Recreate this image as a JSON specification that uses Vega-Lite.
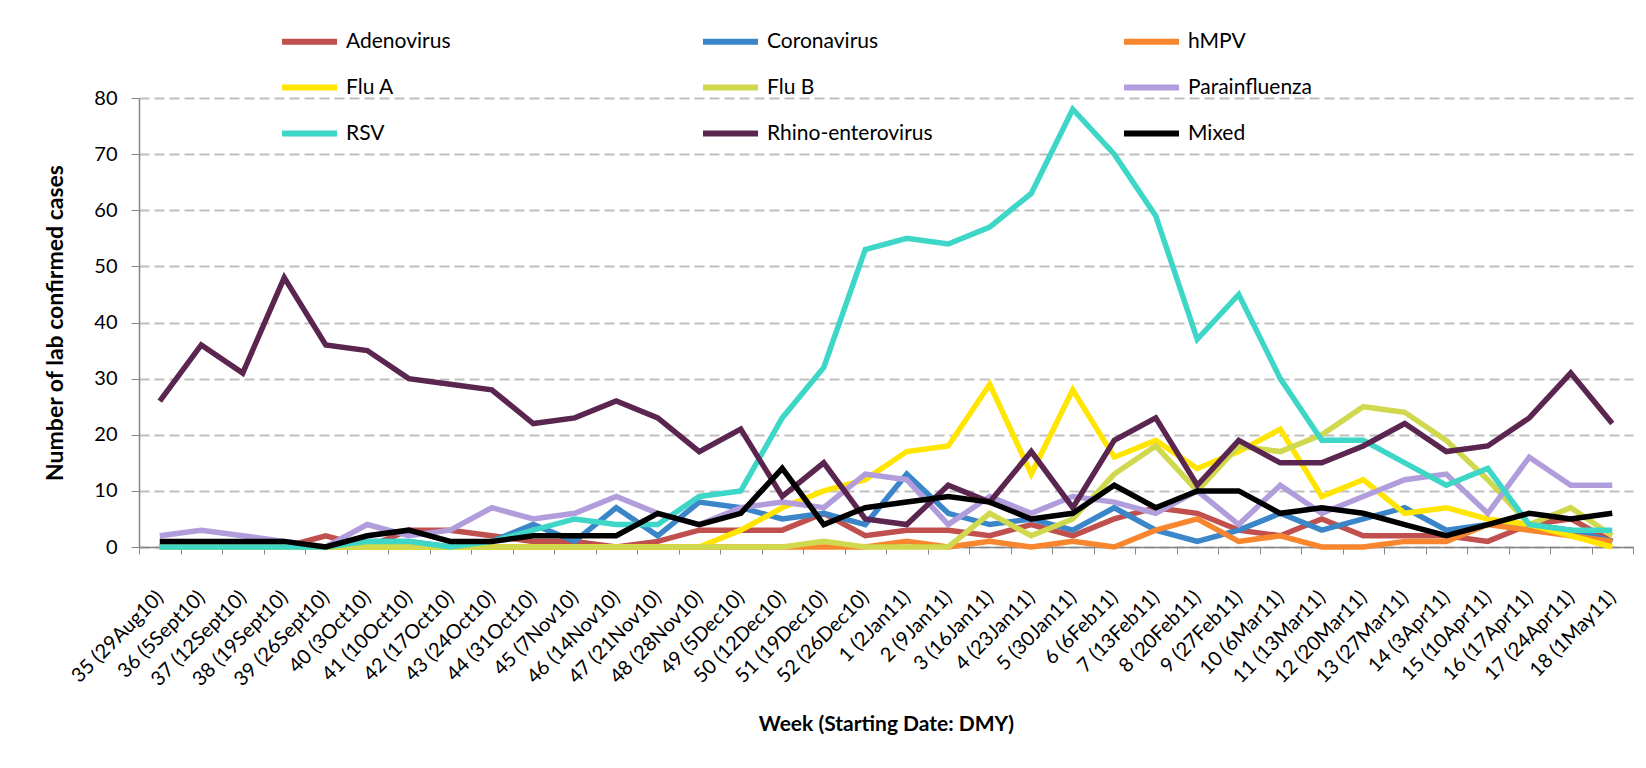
{
  "$schema": "https://vega.github.io/schema/vega-lite/v6.json",
  "width": 1494,
  "height": 449,
  "autosize": "none",
  "padding": {"left": 139, "top": 98, "right": 13, "bottom": 221},
  "background": "white",
  "config": {
    "font": "Lato",
    "view": {"stroke": null},
    "axis": {"labelColor": "black", "titleColor": "black", "labelFont": "Lato", "titleFont": "Lato"}
  },
  "data": {
    "values": [
      {"week": "35 (29Aug10)", "virus": "Adenovirus", "cases": 0},
      {"week": "36 (5Sept10)", "virus": "Adenovirus", "cases": 0},
      {"week": "37 (12Sept10)", "virus": "Adenovirus", "cases": 0},
      {"week": "38 (19Sept10)", "virus": "Adenovirus", "cases": 0},
      {"week": "39 (26Sept10)", "virus": "Adenovirus", "cases": 2},
      {"week": "40 (3Oct10)", "virus": "Adenovirus", "cases": 0},
      {"week": "41 (10Oct10)", "virus": "Adenovirus", "cases": 3},
      {"week": "42 (17Oct10)", "virus": "Adenovirus", "cases": 3},
      {"week": "43 (24Oct10)", "virus": "Adenovirus", "cases": 2},
      {"week": "44 (31Oct10)", "virus": "Adenovirus", "cases": 1},
      {"week": "45 (7Nov10)", "virus": "Adenovirus", "cases": 1},
      {"week": "46 (14Nov10)", "virus": "Adenovirus", "cases": 0},
      {"week": "47 (21Nov10)", "virus": "Adenovirus", "cases": 1},
      {"week": "48 (28Nov10)", "virus": "Adenovirus", "cases": 3},
      {"week": "49 (5Dec10)", "virus": "Adenovirus", "cases": 3},
      {"week": "50 (12Dec10)", "virus": "Adenovirus", "cases": 3},
      {"week": "51 (19Dec10)", "virus": "Adenovirus", "cases": 6},
      {"week": "52 (26Dec10)", "virus": "Adenovirus", "cases": 2},
      {"week": "1 (2Jan11)", "virus": "Adenovirus", "cases": 3},
      {"week": "2 (9Jan11)", "virus": "Adenovirus", "cases": 3},
      {"week": "3 (16Jan11)", "virus": "Adenovirus", "cases": 2},
      {"week": "4 (23Jan11)", "virus": "Adenovirus", "cases": 4},
      {"week": "5 (30Jan11)", "virus": "Adenovirus", "cases": 2},
      {"week": "6 (6Feb11)", "virus": "Adenovirus", "cases": 5},
      {"week": "7 (13Feb11)", "virus": "Adenovirus", "cases": 7},
      {"week": "8 (20Feb11)", "virus": "Adenovirus", "cases": 6},
      {"week": "9 (27Feb11)", "virus": "Adenovirus", "cases": 3},
      {"week": "10 (6Mar11)", "virus": "Adenovirus", "cases": 2},
      {"week": "11 (13Mar11)", "virus": "Adenovirus", "cases": 5},
      {"week": "12 (20Mar11)", "virus": "Adenovirus", "cases": 2},
      {"week": "13 (27Mar11)", "virus": "Adenovirus", "cases": 2},
      {"week": "14 (3Apr11)", "virus": "Adenovirus", "cases": 2},
      {"week": "15 (10Apr11)", "virus": "Adenovirus", "cases": 1},
      {"week": "16 (17Apr11)", "virus": "Adenovirus", "cases": 4},
      {"week": "17 (24Apr11)", "virus": "Adenovirus", "cases": 5},
      {"week": "18 (1May11)", "virus": "Adenovirus", "cases": 1},

      {"week": "35 (29Aug10)", "virus": "Coronavirus", "cases": 0},
      {"week": "36 (5Sept10)", "virus": "Coronavirus", "cases": 0},
      {"week": "37 (12Sept10)", "virus": "Coronavirus", "cases": 0},
      {"week": "38 (19Sept10)", "virus": "Coronavirus", "cases": 0},
      {"week": "39 (26Sept10)", "virus": "Coronavirus", "cases": 0},
      {"week": "40 (3Oct10)", "virus": "Coronavirus", "cases": 1},
      {"week": "41 (10Oct10)", "virus": "Coronavirus", "cases": 1},
      {"week": "42 (17Oct10)", "virus": "Coronavirus", "cases": 0},
      {"week": "43 (24Oct10)", "virus": "Coronavirus", "cases": 1},
      {"week": "44 (31Oct10)", "virus": "Coronavirus", "cases": 4},
      {"week": "45 (7Nov10)", "virus": "Coronavirus", "cases": 1},
      {"week": "46 (14Nov10)", "virus": "Coronavirus", "cases": 7},
      {"week": "47 (21Nov10)", "virus": "Coronavirus", "cases": 2},
      {"week": "48 (28Nov10)", "virus": "Coronavirus", "cases": 8},
      {"week": "49 (5Dec10)", "virus": "Coronavirus", "cases": 7},
      {"week": "50 (12Dec10)", "virus": "Coronavirus", "cases": 5},
      {"week": "51 (19Dec10)", "virus": "Coronavirus", "cases": 6},
      {"week": "52 (26Dec10)", "virus": "Coronavirus", "cases": 4},
      {"week": "1 (2Jan11)", "virus": "Coronavirus", "cases": 13},
      {"week": "2 (9Jan11)", "virus": "Coronavirus", "cases": 6},
      {"week": "3 (16Jan11)", "virus": "Coronavirus", "cases": 4},
      {"week": "4 (23Jan11)", "virus": "Coronavirus", "cases": 5},
      {"week": "5 (30Jan11)", "virus": "Coronavirus", "cases": 3},
      {"week": "6 (6Feb11)", "virus": "Coronavirus", "cases": 7},
      {"week": "7 (13Feb11)", "virus": "Coronavirus", "cases": 3},
      {"week": "8 (20Feb11)", "virus": "Coronavirus", "cases": 1},
      {"week": "9 (27Feb11)", "virus": "Coronavirus", "cases": 3},
      {"week": "10 (6Mar11)", "virus": "Coronavirus", "cases": 6},
      {"week": "11 (13Mar11)", "virus": "Coronavirus", "cases": 3},
      {"week": "12 (20Mar11)", "virus": "Coronavirus", "cases": 5},
      {"week": "13 (27Mar11)", "virus": "Coronavirus", "cases": 7},
      {"week": "14 (3Apr11)", "virus": "Coronavirus", "cases": 3},
      {"week": "15 (10Apr11)", "virus": "Coronavirus", "cases": 4},
      {"week": "16 (17Apr11)", "virus": "Coronavirus", "cases": 4},
      {"week": "17 (24Apr11)", "virus": "Coronavirus", "cases": 3},
      {"week": "18 (1May11)", "virus": "Coronavirus", "cases": 1},

      {"week": "35 (29Aug10)", "virus": "hMPV", "cases": 0},
      {"week": "36 (5Sept10)", "virus": "hMPV", "cases": 0},
      {"week": "37 (12Sept10)", "virus": "hMPV", "cases": 0},
      {"week": "38 (19Sept10)", "virus": "hMPV", "cases": 0},
      {"week": "39 (26Sept10)", "virus": "hMPV", "cases": 0},
      {"week": "40 (3Oct10)", "virus": "hMPV", "cases": 0},
      {"week": "41 (10Oct10)", "virus": "hMPV", "cases": 0},
      {"week": "42 (17Oct10)", "virus": "hMPV", "cases": 0},
      {"week": "43 (24Oct10)", "virus": "hMPV", "cases": 0},
      {"week": "44 (31Oct10)", "virus": "hMPV", "cases": 0},
      {"week": "45 (7Nov10)", "virus": "hMPV", "cases": 0},
      {"week": "46 (14Nov10)", "virus": "hMPV", "cases": 0},
      {"week": "47 (21Nov10)", "virus": "hMPV", "cases": 0},
      {"week": "48 (28Nov10)", "virus": "hMPV", "cases": 0},
      {"week": "49 (5Dec10)", "virus": "hMPV", "cases": 0},
      {"week": "50 (12Dec10)", "virus": "hMPV", "cases": 0},
      {"week": "51 (19Dec10)", "virus": "hMPV", "cases": 0},
      {"week": "52 (26Dec10)", "virus": "hMPV", "cases": 0},
      {"week": "1 (2Jan11)", "virus": "hMPV", "cases": 1},
      {"week": "2 (9Jan11)", "virus": "hMPV", "cases": 0},
      {"week": "3 (16Jan11)", "virus": "hMPV", "cases": 1},
      {"week": "4 (23Jan11)", "virus": "hMPV", "cases": 0},
      {"week": "5 (30Jan11)", "virus": "hMPV", "cases": 1},
      {"week": "6 (6Feb11)", "virus": "hMPV", "cases": 0},
      {"week": "7 (13Feb11)", "virus": "hMPV", "cases": 3},
      {"week": "8 (20Feb11)", "virus": "hMPV", "cases": 5},
      {"week": "9 (27Feb11)", "virus": "hMPV", "cases": 1},
      {"week": "10 (6Mar11)", "virus": "hMPV", "cases": 2},
      {"week": "11 (13Mar11)", "virus": "hMPV", "cases": 0},
      {"week": "12 (20Mar11)", "virus": "hMPV", "cases": 0},
      {"week": "13 (27Mar11)", "virus": "hMPV", "cases": 1},
      {"week": "14 (3Apr11)", "virus": "hMPV", "cases": 1},
      {"week": "15 (10Apr11)", "virus": "hMPV", "cases": 4},
      {"week": "16 (17Apr11)", "virus": "hMPV", "cases": 3},
      {"week": "17 (24Apr11)", "virus": "hMPV", "cases": 2},
      {"week": "18 (1May11)", "virus": "hMPV", "cases": 1},

      {"week": "35 (29Aug10)", "virus": "Flu A", "cases": 0},
      {"week": "36 (5Sept10)", "virus": "Flu A", "cases": 0},
      {"week": "37 (12Sept10)", "virus": "Flu A", "cases": 0},
      {"week": "38 (19Sept10)", "virus": "Flu A", "cases": 0},
      {"week": "39 (26Sept10)", "virus": "Flu A", "cases": 0},
      {"week": "40 (3Oct10)", "virus": "Flu A", "cases": 0},
      {"week": "41 (10Oct10)", "virus": "Flu A", "cases": 0},
      {"week": "42 (17Oct10)", "virus": "Flu A", "cases": 0},
      {"week": "43 (24Oct10)", "virus": "Flu A", "cases": 0},
      {"week": "44 (31Oct10)", "virus": "Flu A", "cases": 0},
      {"week": "45 (7Nov10)", "virus": "Flu A", "cases": 0},
      {"week": "46 (14Nov10)", "virus": "Flu A", "cases": 0},
      {"week": "47 (21Nov10)", "virus": "Flu A", "cases": 0},
      {"week": "48 (28Nov10)", "virus": "Flu A", "cases": 0},
      {"week": "49 (5Dec10)", "virus": "Flu A", "cases": 3},
      {"week": "50 (12Dec10)", "virus": "Flu A", "cases": 7},
      {"week": "51 (19Dec10)", "virus": "Flu A", "cases": 10},
      {"week": "52 (26Dec10)", "virus": "Flu A", "cases": 12},
      {"week": "1 (2Jan11)", "virus": "Flu A", "cases": 17},
      {"week": "2 (9Jan11)", "virus": "Flu A", "cases": 18},
      {"week": "3 (16Jan11)", "virus": "Flu A", "cases": 29},
      {"week": "4 (23Jan11)", "virus": "Flu A", "cases": 13},
      {"week": "5 (30Jan11)", "virus": "Flu A", "cases": 28},
      {"week": "6 (6Feb11)", "virus": "Flu A", "cases": 16},
      {"week": "7 (13Feb11)", "virus": "Flu A", "cases": 19},
      {"week": "8 (20Feb11)", "virus": "Flu A", "cases": 14},
      {"week": "9 (27Feb11)", "virus": "Flu A", "cases": 17},
      {"week": "10 (6Mar11)", "virus": "Flu A", "cases": 21},
      {"week": "11 (13Mar11)", "virus": "Flu A", "cases": 9},
      {"week": "12 (20Mar11)", "virus": "Flu A", "cases": 12},
      {"week": "13 (27Mar11)", "virus": "Flu A", "cases": 6},
      {"week": "14 (3Apr11)", "virus": "Flu A", "cases": 7},
      {"week": "15 (10Apr11)", "virus": "Flu A", "cases": 5},
      {"week": "16 (17Apr11)", "virus": "Flu A", "cases": 4},
      {"week": "17 (24Apr11)", "virus": "Flu A", "cases": 2},
      {"week": "18 (1May11)", "virus": "Flu A", "cases": 0},

      {"week": "35 (29Aug10)", "virus": "Flu B", "cases": 0},
      {"week": "36 (5Sept10)", "virus": "Flu B", "cases": 0},
      {"week": "37 (12Sept10)", "virus": "Flu B", "cases": 0},
      {"week": "38 (19Sept10)", "virus": "Flu B", "cases": 0},
      {"week": "39 (26Sept10)", "virus": "Flu B", "cases": 0},
      {"week": "40 (3Oct10)", "virus": "Flu B", "cases": 0},
      {"week": "41 (10Oct10)", "virus": "Flu B", "cases": 0},
      {"week": "42 (17Oct10)", "virus": "Flu B", "cases": 0},
      {"week": "43 (24Oct10)", "virus": "Flu B", "cases": 0},
      {"week": "44 (31Oct10)", "virus": "Flu B", "cases": 0},
      {"week": "45 (7Nov10)", "virus": "Flu B", "cases": 0},
      {"week": "46 (14Nov10)", "virus": "Flu B", "cases": 0},
      {"week": "47 (21Nov10)", "virus": "Flu B", "cases": 0},
      {"week": "48 (28Nov10)", "virus": "Flu B", "cases": 0},
      {"week": "49 (5Dec10)", "virus": "Flu B", "cases": 0},
      {"week": "50 (12Dec10)", "virus": "Flu B", "cases": 0},
      {"week": "51 (19Dec10)", "virus": "Flu B", "cases": 1},
      {"week": "52 (26Dec10)", "virus": "Flu B", "cases": 0},
      {"week": "1 (2Jan11)", "virus": "Flu B", "cases": 0},
      {"week": "2 (9Jan11)", "virus": "Flu B", "cases": 0},
      {"week": "3 (16Jan11)", "virus": "Flu B", "cases": 6},
      {"week": "4 (23Jan11)", "virus": "Flu B", "cases": 2},
      {"week": "5 (30Jan11)", "virus": "Flu B", "cases": 5},
      {"week": "6 (6Feb11)", "virus": "Flu B", "cases": 13},
      {"week": "7 (13Feb11)", "virus": "Flu B", "cases": 18},
      {"week": "8 (20Feb11)", "virus": "Flu B", "cases": 10},
      {"week": "9 (27Feb11)", "virus": "Flu B", "cases": 18},
      {"week": "10 (6Mar11)", "virus": "Flu B", "cases": 17},
      {"week": "11 (13Mar11)", "virus": "Flu B", "cases": 20},
      {"week": "12 (20Mar11)", "virus": "Flu B", "cases": 25},
      {"week": "13 (27Mar11)", "virus": "Flu B", "cases": 24},
      {"week": "14 (3Apr11)", "virus": "Flu B", "cases": 19},
      {"week": "15 (10Apr11)", "virus": "Flu B", "cases": 12},
      {"week": "16 (17Apr11)", "virus": "Flu B", "cases": 4},
      {"week": "17 (24Apr11)", "virus": "Flu B", "cases": 7},
      {"week": "18 (1May11)", "virus": "Flu B", "cases": 2},

      {"week": "35 (29Aug10)", "virus": "Parainfluenza", "cases": 2},
      {"week": "36 (5Sept10)", "virus": "Parainfluenza", "cases": 3},
      {"week": "37 (12Sept10)", "virus": "Parainfluenza", "cases": 2},
      {"week": "38 (19Sept10)", "virus": "Parainfluenza", "cases": 1},
      {"week": "39 (26Sept10)", "virus": "Parainfluenza", "cases": 0},
      {"week": "40 (3Oct10)", "virus": "Parainfluenza", "cases": 4},
      {"week": "41 (10Oct10)", "virus": "Parainfluenza", "cases": 2},
      {"week": "42 (17Oct10)", "virus": "Parainfluenza", "cases": 3},
      {"week": "43 (24Oct10)", "virus": "Parainfluenza", "cases": 7},
      {"week": "44 (31Oct10)", "virus": "Parainfluenza", "cases": 5},
      {"week": "45 (7Nov10)", "virus": "Parainfluenza", "cases": 6},
      {"week": "46 (14Nov10)", "virus": "Parainfluenza", "cases": 9},
      {"week": "47 (21Nov10)", "virus": "Parainfluenza", "cases": 6},
      {"week": "48 (28Nov10)", "virus": "Parainfluenza", "cases": 4},
      {"week": "49 (5Dec10)", "virus": "Parainfluenza", "cases": 7},
      {"week": "50 (12Dec10)", "virus": "Parainfluenza", "cases": 8},
      {"week": "51 (19Dec10)", "virus": "Parainfluenza", "cases": 7},
      {"week": "52 (26Dec10)", "virus": "Parainfluenza", "cases": 13},
      {"week": "1 (2Jan11)", "virus": "Parainfluenza", "cases": 12},
      {"week": "2 (9Jan11)", "virus": "Parainfluenza", "cases": 4},
      {"week": "3 (16Jan11)", "virus": "Parainfluenza", "cases": 9},
      {"week": "4 (23Jan11)", "virus": "Parainfluenza", "cases": 6},
      {"week": "5 (30Jan11)", "virus": "Parainfluenza", "cases": 9},
      {"week": "6 (6Feb11)", "virus": "Parainfluenza", "cases": 8},
      {"week": "7 (13Feb11)", "virus": "Parainfluenza", "cases": 6},
      {"week": "8 (20Feb11)", "virus": "Parainfluenza", "cases": 10},
      {"week": "9 (27Feb11)", "virus": "Parainfluenza", "cases": 4},
      {"week": "10 (6Mar11)", "virus": "Parainfluenza", "cases": 11},
      {"week": "11 (13Mar11)", "virus": "Parainfluenza", "cases": 6},
      {"week": "12 (20Mar11)", "virus": "Parainfluenza", "cases": 9},
      {"week": "13 (27Mar11)", "virus": "Parainfluenza", "cases": 12},
      {"week": "14 (3Apr11)", "virus": "Parainfluenza", "cases": 13},
      {"week": "15 (10Apr11)", "virus": "Parainfluenza", "cases": 6},
      {"week": "16 (17Apr11)", "virus": "Parainfluenza", "cases": 16},
      {"week": "17 (24Apr11)", "virus": "Parainfluenza", "cases": 11},
      {"week": "18 (1May11)", "virus": "Parainfluenza", "cases": 11},

      {"week": "35 (29Aug10)", "virus": "RSV", "cases": 0},
      {"week": "36 (5Sept10)", "virus": "RSV", "cases": 0},
      {"week": "37 (12Sept10)", "virus": "RSV", "cases": 0},
      {"week": "38 (19Sept10)", "virus": "RSV", "cases": 0},
      {"week": "39 (26Sept10)", "virus": "RSV", "cases": 0},
      {"week": "40 (3Oct10)", "virus": "RSV", "cases": 1},
      {"week": "41 (10Oct10)", "virus": "RSV", "cases": 1},
      {"week": "42 (17Oct10)", "virus": "RSV", "cases": 0},
      {"week": "43 (24Oct10)", "virus": "RSV", "cases": 1},
      {"week": "44 (31Oct10)", "virus": "RSV", "cases": 3},
      {"week": "45 (7Nov10)", "virus": "RSV", "cases": 5},
      {"week": "46 (14Nov10)", "virus": "RSV", "cases": 4},
      {"week": "47 (21Nov10)", "virus": "RSV", "cases": 4},
      {"week": "48 (28Nov10)", "virus": "RSV", "cases": 9},
      {"week": "49 (5Dec10)", "virus": "RSV", "cases": 10},
      {"week": "50 (12Dec10)", "virus": "RSV", "cases": 23},
      {"week": "51 (19Dec10)", "virus": "RSV", "cases": 32},
      {"week": "52 (26Dec10)", "virus": "RSV", "cases": 53},
      {"week": "1 (2Jan11)", "virus": "RSV", "cases": 55},
      {"week": "2 (9Jan11)", "virus": "RSV", "cases": 54},
      {"week": "3 (16Jan11)", "virus": "RSV", "cases": 57},
      {"week": "4 (23Jan11)", "virus": "RSV", "cases": 63},
      {"week": "5 (30Jan11)", "virus": "RSV", "cases": 78},
      {"week": "6 (6Feb11)", "virus": "RSV", "cases": 70},
      {"week": "7 (13Feb11)", "virus": "RSV", "cases": 59},
      {"week": "8 (20Feb11)", "virus": "RSV", "cases": 37},
      {"week": "9 (27Feb11)", "virus": "RSV", "cases": 45},
      {"week": "10 (6Mar11)", "virus": "RSV", "cases": 30},
      {"week": "11 (13Mar11)", "virus": "RSV", "cases": 19},
      {"week": "12 (20Mar11)", "virus": "RSV", "cases": 19},
      {"week": "13 (27Mar11)", "virus": "RSV", "cases": 15},
      {"week": "14 (3Apr11)", "virus": "RSV", "cases": 11},
      {"week": "15 (10Apr11)", "virus": "RSV", "cases": 14},
      {"week": "16 (17Apr11)", "virus": "RSV", "cases": 4},
      {"week": "17 (24Apr11)", "virus": "RSV", "cases": 3},
      {"week": "18 (1May11)", "virus": "RSV", "cases": 3},

      {"week": "35 (29Aug10)", "virus": "Rhino-enterovirus", "cases": 26},
      {"week": "36 (5Sept10)", "virus": "Rhino-enterovirus", "cases": 36},
      {"week": "37 (12Sept10)", "virus": "Rhino-enterovirus", "cases": 31},
      {"week": "38 (19Sept10)", "virus": "Rhino-enterovirus", "cases": 48},
      {"week": "39 (26Sept10)", "virus": "Rhino-enterovirus", "cases": 36},
      {"week": "40 (3Oct10)", "virus": "Rhino-enterovirus", "cases": 35},
      {"week": "41 (10Oct10)", "virus": "Rhino-enterovirus", "cases": 30},
      {"week": "42 (17Oct10)", "virus": "Rhino-enterovirus", "cases": 29},
      {"week": "43 (24Oct10)", "virus": "Rhino-enterovirus", "cases": 28},
      {"week": "44 (31Oct10)", "virus": "Rhino-enterovirus", "cases": 22},
      {"week": "45 (7Nov10)", "virus": "Rhino-enterovirus", "cases": 23},
      {"week": "46 (14Nov10)", "virus": "Rhino-enterovirus", "cases": 26},
      {"week": "47 (21Nov10)", "virus": "Rhino-enterovirus", "cases": 23},
      {"week": "48 (28Nov10)", "virus": "Rhino-enterovirus", "cases": 17},
      {"week": "49 (5Dec10)", "virus": "Rhino-enterovirus", "cases": 21},
      {"week": "50 (12Dec10)", "virus": "Rhino-enterovirus", "cases": 9},
      {"week": "51 (19Dec10)", "virus": "Rhino-enterovirus", "cases": 15},
      {"week": "52 (26Dec10)", "virus": "Rhino-enterovirus", "cases": 5},
      {"week": "1 (2Jan11)", "virus": "Rhino-enterovirus", "cases": 4},
      {"week": "2 (9Jan11)", "virus": "Rhino-enterovirus", "cases": 11},
      {"week": "3 (16Jan11)", "virus": "Rhino-enterovirus", "cases": 8},
      {"week": "4 (23Jan11)", "virus": "Rhino-enterovirus", "cases": 17},
      {"week": "5 (30Jan11)", "virus": "Rhino-enterovirus", "cases": 7},
      {"week": "6 (6Feb11)", "virus": "Rhino-enterovirus", "cases": 19},
      {"week": "7 (13Feb11)", "virus": "Rhino-enterovirus", "cases": 23},
      {"week": "8 (20Feb11)", "virus": "Rhino-enterovirus", "cases": 11},
      {"week": "9 (27Feb11)", "virus": "Rhino-enterovirus", "cases": 19},
      {"week": "10 (6Mar11)", "virus": "Rhino-enterovirus", "cases": 15},
      {"week": "11 (13Mar11)", "virus": "Rhino-enterovirus", "cases": 15},
      {"week": "12 (20Mar11)", "virus": "Rhino-enterovirus", "cases": 18},
      {"week": "13 (27Mar11)", "virus": "Rhino-enterovirus", "cases": 22},
      {"week": "14 (3Apr11)", "virus": "Rhino-enterovirus", "cases": 17},
      {"week": "15 (10Apr11)", "virus": "Rhino-enterovirus", "cases": 18},
      {"week": "16 (17Apr11)", "virus": "Rhino-enterovirus", "cases": 23},
      {"week": "17 (24Apr11)", "virus": "Rhino-enterovirus", "cases": 31},
      {"week": "18 (1May11)", "virus": "Rhino-enterovirus", "cases": 22},

      {"week": "35 (29Aug10)", "virus": "Mixed", "cases": 1},
      {"week": "36 (5Sept10)", "virus": "Mixed", "cases": 1},
      {"week": "37 (12Sept10)", "virus": "Mixed", "cases": 1},
      {"week": "38 (19Sept10)", "virus": "Mixed", "cases": 1},
      {"week": "39 (26Sept10)", "virus": "Mixed", "cases": 0},
      {"week": "40 (3Oct10)", "virus": "Mixed", "cases": 2},
      {"week": "41 (10Oct10)", "virus": "Mixed", "cases": 3},
      {"week": "42 (17Oct10)", "virus": "Mixed", "cases": 1},
      {"week": "43 (24Oct10)", "virus": "Mixed", "cases": 1},
      {"week": "44 (31Oct10)", "virus": "Mixed", "cases": 2},
      {"week": "45 (7Nov10)", "virus": "Mixed", "cases": 2},
      {"week": "46 (14Nov10)", "virus": "Mixed", "cases": 2},
      {"week": "47 (21Nov10)", "virus": "Mixed", "cases": 6},
      {"week": "48 (28Nov10)", "virus": "Mixed", "cases": 4},
      {"week": "49 (5Dec10)", "virus": "Mixed", "cases": 6},
      {"week": "50 (12Dec10)", "virus": "Mixed", "cases": 14},
      {"week": "51 (19Dec10)", "virus": "Mixed", "cases": 4},
      {"week": "52 (26Dec10)", "virus": "Mixed", "cases": 7},
      {"week": "1 (2Jan11)", "virus": "Mixed", "cases": 8},
      {"week": "2 (9Jan11)", "virus": "Mixed", "cases": 9},
      {"week": "3 (16Jan11)", "virus": "Mixed", "cases": 8},
      {"week": "4 (23Jan11)", "virus": "Mixed", "cases": 5},
      {"week": "5 (30Jan11)", "virus": "Mixed", "cases": 6},
      {"week": "6 (6Feb11)", "virus": "Mixed", "cases": 11},
      {"week": "7 (13Feb11)", "virus": "Mixed", "cases": 7},
      {"week": "8 (20Feb11)", "virus": "Mixed", "cases": 10},
      {"week": "9 (27Feb11)", "virus": "Mixed", "cases": 10},
      {"week": "10 (6Mar11)", "virus": "Mixed", "cases": 6},
      {"week": "11 (13Mar11)", "virus": "Mixed", "cases": 7},
      {"week": "12 (20Mar11)", "virus": "Mixed", "cases": 6},
      {"week": "13 (27Mar11)", "virus": "Mixed", "cases": 4},
      {"week": "14 (3Apr11)", "virus": "Mixed", "cases": 2},
      {"week": "15 (10Apr11)", "virus": "Mixed", "cases": 4},
      {"week": "16 (17Apr11)", "virus": "Mixed", "cases": 6},
      {"week": "17 (24Apr11)", "virus": "Mixed", "cases": 5},
      {"week": "18 (1May11)", "virus": "Mixed", "cases": 6}
    ]
  },
  "mark": {"type": "line", "strokeWidth": 5.5},
  "encoding": {
    "x": {
      "field": "week",
      "type": "ordinal",
      "scale": {
        "type": "band",
        "paddingInner": 0,
        "paddingOuter": 0,
        "domain": ["35 (29Aug10)", "36 (5Sept10)", "37 (12Sept10)", "38 (19Sept10)", "39 (26Sept10)", "40 (3Oct10)", "41 (10Oct10)", "42 (17Oct10)", "43 (24Oct10)", "44 (31Oct10)", "45 (7Nov10)", "46 (14Nov10)", "47 (21Nov10)", "48 (28Nov10)", "49 (5Dec10)", "50 (12Dec10)", "51 (19Dec10)", "52 (26Dec10)", "1 (2Jan11)", "2 (9Jan11)", "3 (16Jan11)", "4 (23Jan11)", "5 (30Jan11)", "6 (6Feb11)", "7 (13Feb11)", "8 (20Feb11)", "9 (27Feb11)", "10 (6Mar11)", "11 (13Mar11)", "12 (20Mar11)", "13 (27Mar11)", "14 (3Apr11)", "15 (10Apr11)", "16 (17Apr11)", "17 (24Apr11)", "18 (1May11)"]
      },
      "axis": {
        "title": "Week (Starting Date: DMY)",
        "titleFontSize": 21,
        "titleFontWeight": "bold",
        "titlePadding": 24,
        "labelAngle": -45,
        "labelAlign": "right",
        "labelBaseline": "middle",
        "labelFontSize": 20,
        "labelPadding": 40,
        "labelOverlap": false,
        "tickBand": "extent",
        "tickSize": 7,
        "tickColor": "#868686",
        "domainColor": "#868686",
        "domainWidth": 1.5
      }
    },
    "y": {
      "field": "cases",
      "type": "quantitative",
      "scale": {"domain": [0, 80]},
      "axis": {
        "title": "Number of lab confirmed cases",
        "titleFontSize": 23,
        "titleFontWeight": "bold",
        "titlePadding": 26,
        "values": [0, 10, 20, 30, 40, 50, 60, 70, 80],
        "labelFontSize": 20,
        "labelPadding": 14,
        "tickSize": 8,
        "tickColor": "#868686",
        "domainColor": "#868686",
        "domainWidth": 1.5,
        "grid": true,
        "gridColor": "#bfbfbf",
        "gridDash": [10, 5],
        "gridWidth": 2
      }
    },
    "color": {
      "field": "virus",
      "type": "nominal",
      "sort": null,
      "scale": {
        "domain": ["Adenovirus", "Coronavirus", "hMPV", "Flu A", "Flu B", "Parainfluenza", "RSV", "Rhino-enterovirus", "Mixed"],
        "range": ["#c0504d", "#3a86c8", "#f7862f", "#ffe500", "#d0d84e", "#b29ddc", "#3dd6c7", "#5a2650", "#000000"]
      },
      "legend": {
        "title": null,
        "orient": "none",
        "legendX": 140,
        "legendY": -87,
        "direction": "horizontal",
        "columns": 3,
        "gridAlign": "all",
        "columnPadding": 179,
        "rowPadding": 3,
        "padding": 0,
        "symbolType": "stroke",
        "symbolSize": 3025,
        "symbolStrokeWidth": 6,
        "labelFontSize": 21,
        "labelFont": "Lato",
        "labelColor": "black",
        "labelOffset": 6,
        "labelLimit": 300
      }
    }
  }
}
